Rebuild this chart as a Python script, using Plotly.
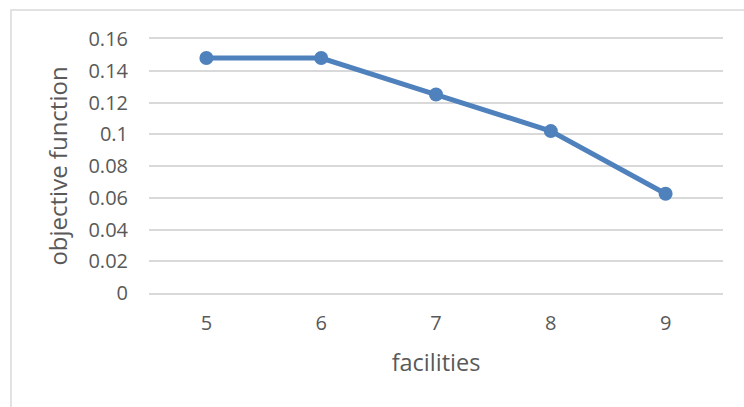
import plotly.graph_objects as go

# Objective value for each number of facilities
facilities = [5, 6, 7, 8, 9]
objective = [0.148, 0.148, 0.125, 0.102, 0.0625]
y_ticks = [0, 0.02, 0.04, 0.06, 0.08, 0.1, 0.12, 0.14, 0.16]
y_tick_text = ["0", "0.02", "0.04", "0.06", "0.08", "0.1", "0.12", "0.14", "0.16"]

BLUE = "#4F81BD"
GRID = "#D9D9D9"
TEXT = "#595959"
FONT = "Open Sans"

W, H = 744, 407
L, R, T, B = 149, 21, 39, 114
pw, ph = W - L - R, H - T - B

fig = go.Figure(
    go.Scatter(
        x=facilities,
        y=objective,
        mode="lines+markers",
        line=dict(color=BLUE, width=5),
        marker=dict(color=BLUE, size=14),
        showlegend=False,
        cliponaxis=False,
    )
)

# Outer chart frame (runs past the right and bottom edges)
fig.add_shape(
    type="rect",
    xref="paper", yref="paper",
    x0=(11 - L) / pw, x1=(W + 10 - L) / pw,
    y0=(H - B - (H + 10)) / ph, y1=(H - B - 10) / ph,
    line=dict(color=GRID, width=1.5),
    fillcolor="rgba(0,0,0,0)",
    layer="below",
)

fig.update_layout(
    width=W, height=H,
    margin=dict(l=L, r=R, t=T, b=B),
    paper_bgcolor="white",
    plot_bgcolor="white",
    font=dict(family=FONT, color=TEXT, size=20),
    xaxis=dict(
        range=[4.5, 9.5],
        tickvals=facilities,
        showgrid=False,
        zeroline=False,
        # bottom and top lines act as the 0 and 0.16 gridlines
        showline=True,
        mirror=True,
        linecolor=GRID,
        linewidth=1.5,
        ticks="",
        ticklabelstandoff=11,
        tickfont=dict(size=20, color=TEXT),
        title=dict(text="facilities", font=dict(size=23.5, color=TEXT), standoff=20),
    ),
    yaxis=dict(
        range=[0, 0.16],
        tickvals=y_ticks,
        ticktext=y_tick_text,
        showgrid=True,
        gridcolor=GRID,
        gridwidth=1.5,
        zeroline=False,
        showline=False,
        ticks="",
        ticklabelstandoff=20,
        tickfont=dict(size=20, color=TEXT),
        title=dict(text="objective function", font=dict(size=24, color=TEXT), standoff=14),
    ),
)

fig.write_html("out.html")
